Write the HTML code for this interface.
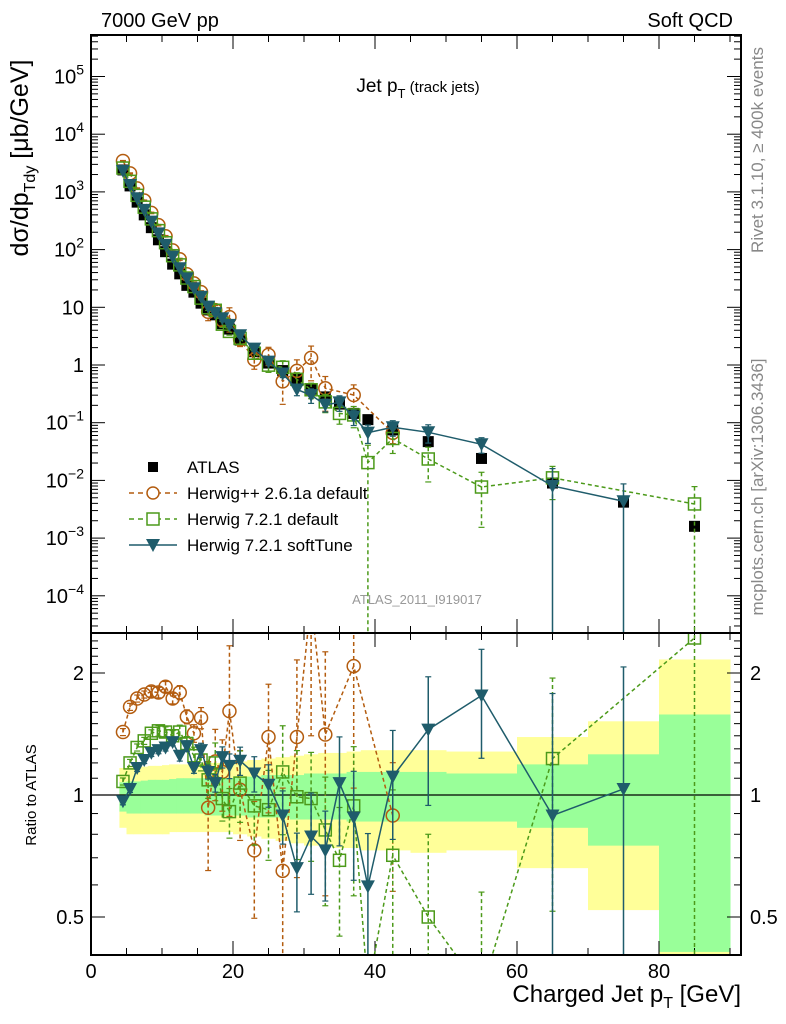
<!DOCTYPE html>
<html><head><meta charset="utf-8">
<style>
html,body{margin:0;padding:0;background:#fff;overflow:hidden;width:786px;height:1024px;}
svg{display:block;font-family:"Liberation Sans",sans-serif;overflow:hidden;}
</style></head>
<body>
<svg id="c" width="786" height="1024" viewBox="0 0 786 1024" xmlns="http://www.w3.org/2000/svg">
<defs>
<clipPath id="cm"><rect x="91" y="35" width="650" height="598"/></clipPath>
<clipPath id="cr"><rect x="91" y="633" width="650" height="322"/></clipPath>
</defs>
<g id="bands" clip-path="url(#cr)"></g>
<g id="axes"></g>
<g id="marks"></g>
<rect x="91" y="35" width="650" height="598" fill="none" stroke="#000" stroke-width="2"/>
<rect x="91" y="633" width="650" height="322" fill="none" stroke="#000" stroke-width="2"/>
<text x="101" y="27" font-size="20">7000 GeV pp</text>
<text x="733" y="27" font-size="20" text-anchor="end">Soft QCD</text>
<text x="418" y="92" font-size="19" text-anchor="middle">Jet p<tspan font-size="13" dy="6">T</tspan><tspan font-size="15" dy="-6"> (track jets)</tspan></text>
<text x="417" y="604" font-size="13" fill="#999" text-anchor="middle">ATLAS_2011_I919017</text>
<text transform="translate(763,150) rotate(-90)" font-size="17" fill="#888" text-anchor="middle">Rivet 3.1.10, ≥ 400k events</text>
<text transform="translate(763,487) rotate(-90)" font-size="17" fill="#888" text-anchor="middle">mcplots.cern.ch [arXiv:1306.3436]</text>
<text transform="translate(28,158) rotate(-90)" font-size="25" text-anchor="middle">dσ/dp<tspan font-size="16" dy="7">Tdy</tspan><tspan dy="-7"> [μb/GeV]</tspan></text>
<text transform="translate(36,795) rotate(-90)" font-size="15" text-anchor="middle">Ratio to ATLAS</text>
<text x="741" y="1002" font-size="24" text-anchor="end">Charged Jet p<tspan font-size="16" dy="6">T</tspan><tspan dy="-6"> [GeV]</tspan></text>
<g>
<rect x="148" y="462" width="10" height="10" fill="#000"/>
<text x="187" y="473" font-size="17">ATLAS</text>
<line x1="129" y1="493" x2="177" y2="493" stroke="#b35c0f" stroke-width="1.5" stroke-dasharray="5,4"/>
<circle cx="153" cy="493" r="6" fill="#fff" stroke="#b35c0f" stroke-width="1.5"/>
<text x="187" y="499" font-size="17">Herwig++ 2.6.1a default</text>
<line x1="129" y1="519" x2="177" y2="519" stroke="#4c9a1a" stroke-width="1.5" stroke-dasharray="5,4"/>
<rect x="147" y="513" width="12" height="12" fill="#fff" stroke="#4c9a1a" stroke-width="1.5"/>
<text x="187" y="525" font-size="17">Herwig 7.2.1 default</text>
<line x1="129" y1="545" x2="177" y2="545" stroke="#1f5c6b" stroke-width="1.5"/>
<path d="M146,539 L160,539 L153,552 Z" fill="#1f5c6b"/>
<text x="187" y="551" font-size="17">Herwig 7.2.1 softTune</text>
</g>
</svg>
<script>
const binEdges = [4,5,6,7,8,9,10,11,12,13,14,15,16,17,18,19,20,22,24,26,28,30,32,34,36,38,40,45,50,60,70,80,90];
const binCenters = [4.5,5.5,6.5,7.5,8.5,9.5,10.5,11.5,12.5,13.5,14.5,15.5,16.5,17.5,18.5,19.5,21,23,25,27,29,31,33,35,37,39,42.5,47.5,55,65,75,85];
const atlasValues = [2400,1270,665,400,240,148,92,56,38,24,18.3,11.8,9,7.4,5.2,4.2,2.7,1.7,1.08,0.8,0.57,0.38,0.28,0.21,0.145,0.113,0.075,0.047,0.024,0.009,0.0042,0.0016];
const bandYellowUp = [1.166,1.17,1.17,1.175,1.18,1.18,1.185,1.19,1.19,1.19,1.195,1.2,1.2,1.2,1.2,1.2,1.21,1.22,1.23,1.24,1.25,1.26,1.27,1.27,1.28,1.29,1.29,1.29,1.28,1.39,1.52,2.16];
const bandYellowDn = [0.83,0.8,0.8,0.8,0.8,0.8,0.8,0.81,0.81,0.81,0.81,0.81,0.81,0.81,0.81,0.81,0.8,0.79,0.78,0.77,0.76,0.75,0.75,0.74,0.74,0.73,0.73,0.72,0.73,0.66,0.52,0.39];
const bandGreenUp = [1.075,1.08,1.08,1.085,1.09,1.09,1.09,1.095,1.1,1.1,1.1,1.1,1.1,1.1,1.1,1.1,1.11,1.11,1.12,1.12,1.12,1.13,1.13,1.13,1.14,1.14,1.14,1.14,1.13,1.19,1.26,1.58];
const bandGreenDn = [0.91,0.9,0.9,0.9,0.9,0.9,0.9,0.9,0.9,0.9,0.9,0.9,0.89,0.89,0.89,0.89,0.89,0.88,0.88,0.88,0.87,0.87,0.87,0.87,0.86,0.86,0.86,0.86,0.86,0.83,0.75,0.41];
const ratioHerwigpp = [1.43,1.65,1.73,1.77,1.80,1.79,1.85,1.73,1.79,1.56,1.42,1.55,0.93,1.21,1.14,1.61,1.03,0.73,1.39,0.65,1.39,3.5,1.41,null,2.08,null,0.89,null,null,null,null,null];
const errHerwigpp = [0.02,0.02,0.02,0.02,0.03,0.03,0.03,0.03,0.04,0.04,0.05,0.06,0.3,0.2,0.2,0.45,0.25,0.32,0.35,0.6,0.55,0.6,0.6,0,0.5,0,0.35,0,0,0,0,0];
const ratioHerwig721 = [1.08,1.20,1.31,1.36,1.42,1.44,1.43,1.40,1.43,1.34,1.25,1.22,1.09,1.2,0.98,0.91,1.07,0.94,0.92,1.14,0.99,0.98,0.82,0.69,0.94,0.18,0.71,0.5,0.32,1.23,null,2.44];
const errHerwig721 = [0.02,0.02,0.02,0.02,0.02,0.03,0.03,0.03,0.04,0.04,0.05,0.06,0.1,0.12,0.12,0.14,0.2,0.2,0.25,0.3,0.3,0.3,0.35,0.35,0.4,1.0,0.45,0.6,0.8,0.58,0,1.0];
const ratioSoftTune = [0.965,1.035,1.166,1.22,1.27,1.29,1.31,1.35,1.25,1.32,1.166,1.29,1.14,1.07,1.24,1.18,1.215,1.13,1.06,0.89,0.66,0.79,0.73,1.07,0.88,0.595,1.11,1.45,1.76,0.89,1.035,null];
const errSoftTune = [0.02,0.02,0.02,0.02,0.02,0.02,0.02,0.02,0.03,0.03,0.03,0.04,0.04,0.05,0.06,0.07,0.08,0.1,0.12,0.15,0.22,0.28,0.25,0.3,0.3,0.35,0.3,0.35,0.3,1.0,1.0,0];
const mainTickExps = [-4,-3,-2,-1,0,1,2,3,4,5];
const ratioTickVals = [0.5,1,2];
const xTickVals = [0,20,40,60,80];

const NS="http://www.w3.org/2000/svg";
const X = v => 91 + 7.1*v;
const YM = val => 365 - 57.7*Math.log10(val);
const YR = r => 795 - 122*Math.log2(r);
function mk(tag, attrs, parent){const e=document.createElementNS(NS,tag);for(const k in attrs)e.setAttribute(k,attrs[k]);parent.appendChild(e);return e;}
const axes=document.getElementById('axes'), marks=document.getElementById('marks'), bands=document.getElementById('bands');

for(let i=0;i<binCenters.length;i++){
  const x1=X(binEdges[i]), x2=X(binEdges[i+1]);
  const y1=Math.max(633,YR(bandYellowUp[i])), y2=Math.min(955,YR(bandYellowDn[i]));
  const y=mk('rect',{x:x1,y:y1,width:x2-x1+0.5,height:y2-y1,fill:'#ffff99'},bands);
  
  
}
for(let i=0;i<binCenters.length;i++){
  const x1=X(binEdges[i]), x2=X(binEdges[i+1]);
  const y1=Math.max(633,YR(bandGreenUp[i])), y2=Math.min(955,YR(bandGreenDn[i]));
  const g=mk('rect',{x:x1,y:y1,width:x2-x1+0.5,height:y2-y1,fill:'#99ff99'},bands);
  
  
}
mk('line',{x1:91,y1:YR(1),x2:741,y2:YR(1),stroke:'#000','stroke-width':1.2},axes);

for(let v=0;v<=90;v+=5){
  const L = v%20===0?14:7;
  [[35,1],[633,-1],[633,1],[955,-1]].forEach(([yy,d])=>{mk('line',{x1:X(v),y1:yy,x2:X(v),y2:yy+d*L,stroke:'#000','stroke-width':1},axes);});
}
xTickVals.forEach(v=>{const t=mk('text',{x:X(v),y:978,'font-size':20,'text-anchor':'middle'},axes);t.textContent=v;
  
  });
for(let e=-5;e<=5;e++){
  for(let m=1;m<10;m++){
    const val=m*Math.pow(10,e), y=YM(val);
    if(y<35||y>633)continue;
    const L=m===1?14:7;
    mk('line',{x1:91,y1:y,x2:91+L,y2:y,stroke:'#000','stroke-width':1},axes);
    mk('line',{x1:741,y1:y,x2:741-L,y2:y,stroke:'#000','stroke-width':1},axes);
  }
}
mainTickExps.forEach(e=>{
  const y=YM(Math.pow(10,e));
  const t=mk('text',{x:84,y:y+7,'font-size':20,'text-anchor':'end'},axes);
  if(e===0)t.textContent='1';else if(e===1)t.textContent='10';
  else{t.textContent='10';const s=mk('tspan',{dy:-9,'font-size':14},t);s.textContent=(e<0?'−':'')+Math.abs(e);}
  
  
});
for(let r=0.4;r<=2.5;r+=0.1){
  const y=YR(r); if(y<634||y>954)continue;
  const major=[0.5,1,2].some(q=>Math.abs(q-r)<1e-6);
  const L=major?14:7;
  mk('line',{x1:91,y1:y,x2:91+L,y2:y,stroke:'#000','stroke-width':1},axes);
  mk('line',{x1:741,y1:y,x2:741-L,y2:y,stroke:'#000','stroke-width':1},axes);
}
ratioTickVals.forEach(r=>{
  const y=YR(r);
  const a=mk('text',{x:84,y:y+7,'font-size':20,'text-anchor':'end'},axes);a.textContent=r;
  
  
  const b=mk('text',{x:750,y:y+7,'font-size':20},axes);b.textContent=r;
  
  
});

function marker(type,x,y,col,g){
  if(type==='circle')mk('circle',{cx:x,cy:y,r:6.5,fill:'none',stroke:col,'stroke-width':1.5},g);
  else if(type==='square')mk('rect',{x:x-6,y:y-6,width:12,height:12,fill:'none',stroke:col,'stroke-width':1.5},g);
  else if(type==='tri')mk('path',{d:`M${x-7},${y-6} L${x+7},${y-6} L${x},${y+7} Z`,fill:col},g);
  else mk('rect',{x:x-5.5,y:y-5.5,width:11,height:11,fill:col},g);
}
function series(name,ratios,errs,col,type,dash){
  ['main','ratio'].forEach(panel=>{
    const g=mk('g',{'clip-path':panel==='main'?'url(#cm)':'url(#cr)'},marks);
    
    
    const top = panel==='main'?35:633, bot = panel==='main'?633:955;
    const clamp = y => Math.max(top-5, Math.min(bot+5, y));
    const pts=[];
    ratios.forEach((r,i)=>{
      if(r===null)return;
      const v = panel==='main'? atlasValues[i]*r : r;
      const F = panel==='main'? YM : YR;
      const x=X(binCenters[i]), y=F(v);
      const e=errs[i]*v, lo=clamp(v-e>0?F(v-e):bot+5), hi=clamp(F(v+e));
      if(errs[i]>0){
        mk('line',{x1:x,y1:hi,x2:x,y2:lo,stroke:col,'stroke-width':1.5,'stroke-dasharray':dash||'none'},g);
        mk('line',{x1:x-3,y1:hi,x2:x+3,y2:hi,stroke:col,'stroke-width':1.2},g);
        mk('line',{x1:x-3,y1:lo,x2:x+3,y2:lo,stroke:col,'stroke-width':1.2},g);
      }
      pts.push([x,y]);
    });
    // clip line segments' extent to panel vicinity
    const lim = panel==='main'?[0,700]:[600,990];
    mk('polyline',{points:pts.map(p=>p[0]+','+Math.max(lim[0],Math.min(lim[1],p[1]))).join(' '),fill:'none',stroke:col,'stroke-width':1.5,'stroke-dasharray':dash||'none'},g);
    pts.forEach(p=>{ if(p[1]>=top-10 && p[1]<=bot+10) marker(type,p[0],p[1],col,g); });
  });
}
(function(){
  const g=mk('g',{'clip-path':'url(#cm)'},marks);
  
  
  atlasValues.forEach((v,i)=>marker('atlas',X(binCenters[i]),YM(v),'#000',g));
})();
series('herwigpp',ratioHerwigpp,errHerwigpp,'#b35c0f','circle','4,3');
series('herwig721',ratioHerwig721,errHerwig721,'#4c9a1a','square','4,3');
series('softtune',ratioSoftTune,errSoftTune,'#1f5c6b','tri',null);
</script>
</body></html>
